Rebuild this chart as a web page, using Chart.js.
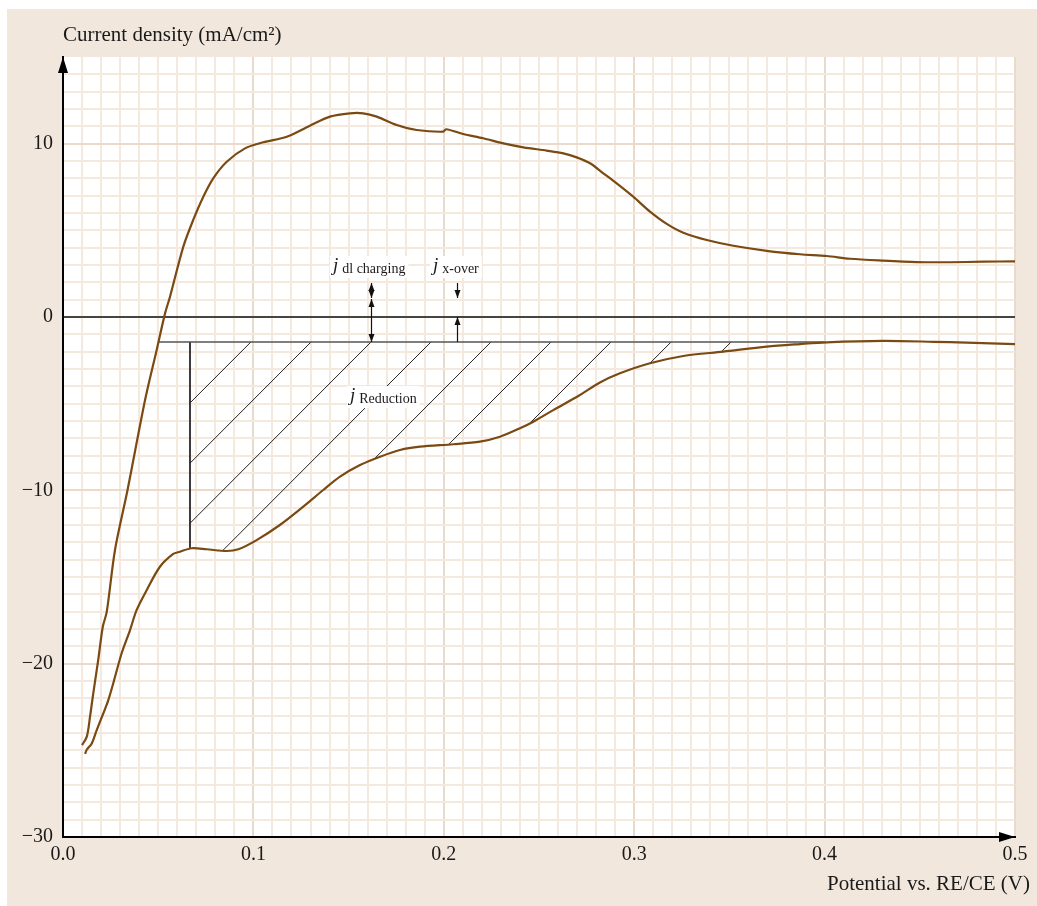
<!DOCTYPE html>
<html>
<head>
<meta charset="utf-8">
<script src="https://cdn.jsdelivr.net/npm/chart.js@4.4.1/dist/chart.umd.min.js"></script>
<style>
  html, body { margin: 0; padding: 0; background: #fff; }
</style>
</head>
<body>
<canvas id="myChart" width="1037" height="906"></canvas>
<script>
// anodic scan (upper branch), read left to right
const anodicPotential = [0.0100, 0.0125, 0.0142, 0.0159, 0.0185, 0.0209, 0.0230, 0.0273, 0.0339, 0.0431,
    0.0492, 0.0536, 0.0562, 0.0632, 0.0684, 0.0737, 0.0789, 0.0860, 0.0956, 0.1052,
    0.1175, 0.1297, 0.1402, 0.1507, 0.1577, 0.1648, 0.1753, 0.1858, 0.1997, 0.2012,
    0.2102, 0.2207, 0.2313, 0.2418, 0.2540, 0.2628, 0.2698, 0.2768, 0.2838, 0.2908,
    0.2995, 0.3083, 0.3171, 0.3258, 0.3381, 0.3521, 0.3696, 0.3871, 0.4011, 0.4133,
    0.4308, 0.4484, 0.4659, 0.4834, 0.5000];
const anodicCurrent = [-24.70, -24.21, -23.06, -21.71, -19.79, -17.87, -17.00, -13.44, -9.98, -4.79,
    -1.90, 0.21, 1.17, 4.06, 5.60, 6.94, 8.00, 8.96, 9.73, 10.08,
    10.40, 11.04, 11.56, 11.75, 11.75, 11.56, 11.08, 10.79, 10.69, 10.83,
    10.56, 10.31, 10.02, 9.79, 9.60, 9.44, 9.21, 8.87, 8.29, 7.71,
    6.94, 6.08, 5.37, 4.86, 4.44, 4.11, 3.82, 3.62, 3.52, 3.36,
    3.25, 3.17, 3.16, 3.19, 3.21];

// cathodic scan (lower branch), read right to left
const cathodicPotential = [0.5000, 0.4746, 0.4571, 0.4308, 0.4011, 0.3871, 0.3696, 0.3468, 0.3258, 0.3083,
    0.2925, 0.2820, 0.2715, 0.2575, 0.2470, 0.2400, 0.2295, 0.2190, 0.2050, 0.1875,
    0.1770, 0.1665, 0.1560, 0.1455, 0.1367, 0.1262, 0.1139, 0.1017, 0.0921, 0.0860,
    0.0755, 0.0676, 0.0614, 0.0579, 0.0509, 0.0440, 0.0387, 0.0352, 0.0308, 0.0264,
    0.0238, 0.0212, 0.0177, 0.0151, 0.0124, 0.0116];
const cathodicCurrent = [-1.56, -1.48, -1.43, -1.38, -1.46, -1.56, -1.71, -2.00, -2.25, -2.67,
    -3.25, -3.78, -4.50, -5.37, -6.04, -6.42, -6.91, -7.19, -7.34, -7.48,
    -7.67, -8.06, -8.54, -9.21, -9.98, -10.94, -12.00, -12.87, -13.40, -13.50,
    -13.40, -13.34, -13.54, -13.67, -14.41, -15.75, -16.90, -18.06, -19.40, -21.13,
    -22.10, -22.86, -23.83, -24.60, -24.98, -25.21];

// tick labels
const xTickLabels = ['0.0', '0.1', '0.2', '0.3', '0.4', '0.5'];
const yTickValues = [10, 0, -10, -20, -30];
const yTickLabels = ['10', '0', '\u221210', '\u221220', '\u221230'];

// shaded reduction area
const baselineCurrent = -1.44;
const baselineEnd = 0.40;
const leftEdgePotential = 0.0667;
const hatchStarts = [0.0987, 0.1303, 0.1618, 0.1933, 0.2248, 0.2563, 0.2878, 0.3194, 0.3509];
const hatchSlope = 110; // 45 degrees on screen

// annotations
const labelX = [0.1418, 0.1943, 0.1507];
const labelY = [2.65, 2.65, -4.85];
const labelSub = ['dl charging', 'x-over', 'Reduction'];
const arrowX = [0.1618, 0.1618, 0.2069, 0.2069];
const arrowFrom = [1.96, 1.04, 1.96, -1.44];
const arrowTo = [1.10, -1.44, 1.10, 0];
const arrowBoth = [true, true, false, false];

const curveColor = '#7a4a12';
const serif = '"Liberation Serif", "Times New Roman", serif';

function toPoints(xs, ys) {
    return xs.map((x, i) => ({ x: x, y: ys[i] }));
}

function cathodicAt(x) {
    for (let i = 0; i < cathodicPotential.length - 1; i++) {
        const x1 = cathodicPotential[i], x2 = cathodicPotential[i + 1];
        if (x <= x1 && x >= x2) {
            const t = (x - x2) / (x1 - x2);
            return cathodicCurrent[i + 1] + t * (cathodicCurrent[i] - cathodicCurrent[i + 1]);
        }
    }
    return null;
}

function anodicCrossing(level) {
    for (let i = 0; i < anodicPotential.length - 1; i++) {
        const y1 = anodicCurrent[i], y2 = anodicCurrent[i + 1];
        if (y1 <= level && y2 >= level) {
            const t = (level - y1) / (y2 - y1);
            return anodicPotential[i] + t * (anodicPotential[i + 1] - anodicPotential[i]);
        }
    }
    return 0;
}

function hatchLine(x0) {
    const step = 0.0001;
    let x = x0;
    while (x - step > leftEdgePotential) {
        const xn = x - step;
        const y = baselineCurrent - hatchSlope * (x0 - xn);
        if (y <= cathodicAt(xn)) break;
        x = xn;
    }
    return [{ x: x0, y: baselineCurrent }, { x: x, y: baselineCurrent - hatchSlope * (x0 - x) }];
}

const straight = (data, color, width) => ({
    data: data, borderColor: color, borderWidth: width, pointRadius: 0, fill: false, tension: 0
});

const datasets = [
    {
        label: 'anodic', data: toPoints(anodicPotential, anodicCurrent),
        borderColor: curveColor, borderWidth: 2.2, pointRadius: 0, tension: 0.3, borderJoinStyle: 'round'
    },
    {
        label: 'cathodic', data: toPoints(cathodicPotential, cathodicCurrent),
        borderColor: curveColor, borderWidth: 2.2, pointRadius: 0, tension: 0.3, borderJoinStyle: 'round'
    },
    straight([{ x: 0, y: 0 }, { x: 0.5, y: 0 }], '#111', 1.5),
    straight([{ x: anodicCrossing(baselineCurrent), y: baselineCurrent }, { x: baselineEnd, y: baselineCurrent }], '#555', 1.6),
    straight([{ x: leftEdgePotential, y: baselineCurrent }, { x: leftEdgePotential, y: cathodicAt(leftEdgePotential) }], '#222', 1)
];
hatchStarts.forEach(x0 => datasets.push(straight(hatchLine(x0), '#222', 1)));

function arrowHead(ctx, x, y, dir) {
    // dir: -1 points up, 1 points down
    ctx.beginPath();
    ctx.moveTo(x, y);
    ctx.lineTo(x - 3, y - dir * 8);
    ctx.lineTo(x + 3, y - dir * 8);
    ctx.closePath();
    ctx.fill();
}

const decor = {
    id: 'decor',
    beforeDraw(chart) {
        const { ctx, chartArea: a } = chart;
        ctx.save();
        ctx.fillStyle = '#ffffff';
        ctx.fillRect(0, 0, chart.width, chart.height);
        ctx.fillStyle = '#f2e7dd';
        ctx.fillRect(7, 9, chart.width - 7, chart.height - 9);
        ctx.fillStyle = '#ffffff';
        ctx.fillRect(a.left, a.top, a.right - a.left, a.bottom - a.top);
        ctx.restore();
    },
    afterDatasetsDraw(chart) {
        const { ctx } = chart;
        const xs = chart.scales.x, ys = chart.scales.y;
        ctx.save();
        // labels with white boxes
        labelSub.forEach((sub, i) => {
            const px = xs.getPixelForValue(labelX[i]);
            const py = ys.getPixelForValue(labelY[i]);
            ctx.font = 'italic 19px ' + serif;
            const jw = ctx.measureText('j').width;
            ctx.font = '14px ' + serif;
            const sw = ctx.measureText(sub).width;
            ctx.fillStyle = '#ffffff';
            ctx.fillRect(px - 3, py - 15, jw + sw + 10, 22);
            ctx.fillStyle = '#1a1a1a';
            ctx.textBaseline = 'alphabetic';
            ctx.textAlign = 'left';
            ctx.font = 'italic 19px ' + serif;
            ctx.fillText('j', px, py);
            ctx.font = '14px ' + serif;
            ctx.fillText(sub, px + jw + 4, py + 2);
        });
        // arrows
        ctx.strokeStyle = '#111';
        ctx.fillStyle = '#111';
        ctx.lineWidth = 1.2;
        arrowX.forEach((x, i) => {
            const px = Math.round(xs.getPixelForValue(x)) + 0.5;
            const p1 = ys.getPixelForValue(arrowFrom[i]);
            const p2 = ys.getPixelForValue(arrowTo[i]);
            ctx.beginPath();
            ctx.moveTo(px, p1);
            ctx.lineTo(px, p2);
            ctx.stroke();
            arrowHead(ctx, px, p2, p2 > p1 ? 1 : -1);
            if (arrowBoth[i]) arrowHead(ctx, px, p1, p1 > p2 ? 1 : -1);
        });
        ctx.restore();
    },
    afterDraw(chart) {
        const { ctx, chartArea: a } = chart;
        ctx.save();
        ctx.fillStyle = '#000';
        // axis arrow heads
        ctx.beginPath();
        ctx.moveTo(a.left, a.top);
        ctx.lineTo(a.left - 5, a.top + 16);
        ctx.lineTo(a.left + 5, a.top + 16);
        ctx.closePath();
        ctx.fill();
        ctx.beginPath();
        ctx.moveTo(a.right, a.bottom);
        ctx.lineTo(a.right - 16, a.bottom - 5);
        ctx.lineTo(a.right - 16, a.bottom + 5);
        ctx.closePath();
        ctx.fill();
        // axis titles
        ctx.fillStyle = '#1a1a1a';
        ctx.font = '21px ' + serif;
        ctx.textBaseline = 'alphabetic';
        ctx.textAlign = 'left';
        ctx.fillText('Current density (mA/cm\u00b2)', a.left, 41);
        ctx.textAlign = 'right';
        ctx.fillText('Potential vs. RE/CE (V)', 1030, 890);
        ctx.restore();
    }
};

const isMultiple = (v, step) => Math.abs(v / step - Math.round(v / step)) < 1e-6;

const ctx = document.getElementById('myChart').getContext('2d');
new Chart(ctx, {
    type: 'line',
    data: { datasets: datasets },
    options: {
        responsive: false,
        animation: false,
        devicePixelRatio: 1,
        layout: { padding: { top: 57, right: 22, left: 0, bottom: 0 } },
        plugins: {
            legend: { display: false },
            tooltip: { enabled: false }
        },
        scales: {
            x: {
                type: 'linear',
                min: 0,
                max: 0.5,
                afterFit: scale => { scale.height = 69; },
                border: { color: '#000', width: 2 },
                grid: {
                    drawTicks: false,
                    color: c => isMultiple(c.tick.value, 0.1) ? '#e9dacb' : '#f5e9de',
                    lineWidth: 2
                },
                ticks: {
                    stepSize: 0.01,
                    maxTicksLimit: 100,
                    autoSkip: false,
                    maxRotation: 0,
                    padding: 6,
                    color: '#1a1a1a',
                    font: { family: serif, size: 20 },
                    callback: value => isMultiple(value, 0.1) ? xTickLabels[Math.round(value * 10)] : ''
                }
            },
            y: {
                type: 'linear',
                min: -30,
                max: 15,
                afterFit: scale => { scale.width = 63; },
                border: { color: '#000', width: 2 },
                grid: {
                    drawTicks: false,
                    color: c => c.tick.value === 15 ? 'rgba(0,0,0,0)' : (isMultiple(c.tick.value, 10) ? '#e9dacb' : '#f5e9de'),
                    lineWidth: 2
                },
                ticks: {
                    stepSize: 1,
                    maxTicksLimit: 100,
                    autoSkip: false,
                    padding: 10,
                    color: '#1a1a1a',
                    font: { family: serif, size: 20 },
                    callback: value => {
                        const k = yTickValues.indexOf(value);
                        return k >= 0 ? yTickLabels[k] : '';
                    }
                }
            }
        }
    },
    plugins: [decor]
});
</script>
</body>
</html>
